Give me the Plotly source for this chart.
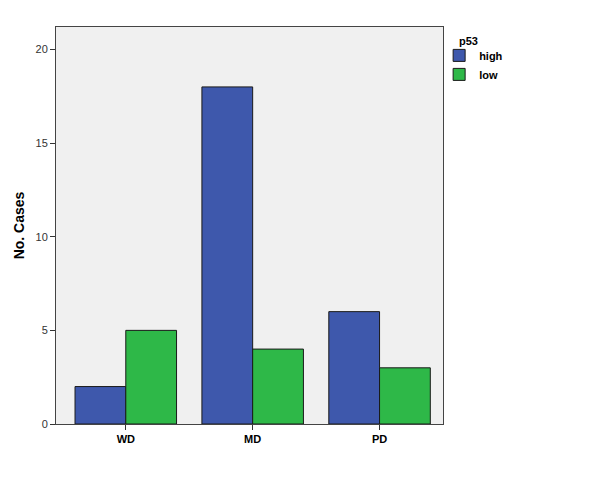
import plotly.graph_objects as go

categories = ["WD", "MD", "PD"]
high_cases = [2, 18, 6]
low_cases = [5, 4, 3]

fig = go.Figure()
fig.add_trace(go.Bar(x=categories, y=high_cases, name="<b>high</b>",
                     marker=dict(color="#3E58AC", line=dict(color="#1a1a1a", width=1))))
fig.add_trace(go.Bar(x=categories, y=low_cases, name="<b>low</b>",
                     marker=dict(color="#2EB848", line=dict(color="#1a1a1a", width=1))))

# the page adds an 8px body margin, so margins are offset by 8px
fig.update_layout(
    width=600, height=480,
    barmode="group", bargap=0.2, bargroupgap=0,
    plot_bgcolor="#F0F0F0", paper_bgcolor="white",
    margin=dict(l=48, r=165, t=19, b=64, autoexpand=False),
    font=dict(family="Liberation Sans, Arial, sans-serif", size=11, color="black"),
    legend=dict(
        x=0.99, y=0.965, xanchor="left", yanchor="top",
        font=dict(size=11, color="black"), tracegroupgap=0, itemwidth=30,
        bgcolor="rgba(0,0,0,0)",
    ),
    showlegend=True,
    annotations=[dict(text="<b>p53</b>", x=(457 - 56) / 387, y=(424 - 41) / 397,
                      xref="paper", yref="paper", xanchor="left", yanchor="middle",
                      showarrow=False, font=dict(size=11))],
)
fig.update_xaxes(
    range=[-0.55, 2.5],
    tickvals=categories, ticktext=["<b>%s</b>" % c for c in categories],
    ticks="outside", ticklen=5, tickcolor="#333",
    showline=True, linecolor="#444", linewidth=1, mirror=True,
    showgrid=False, tickfont=dict(size=11, color="black"),
)
fig.update_yaxes(
    range=[0, 21.2], tickvals=[0, 5, 10, 15, 20],
    ticks="outside", ticklen=5, tickcolor="#333",
    showline=True, linecolor="#444", linewidth=1, mirror=True,
    showgrid=False, zeroline=False, tickfont=dict(size=11, color="#333333"),
    title=dict(text="<b>No. Cases</b>", font=dict(size=14), standoff=7),
)

fig.write_html("out.html")
